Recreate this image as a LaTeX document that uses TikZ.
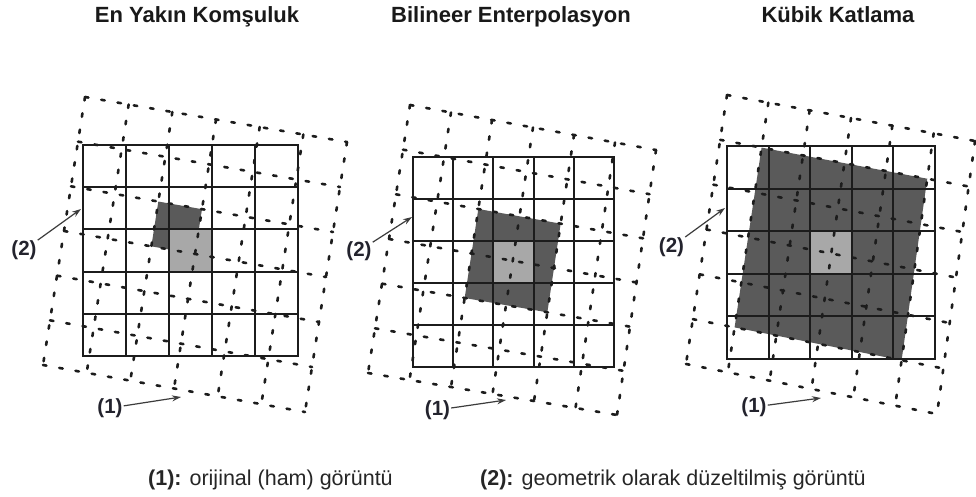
\documentclass[tikz,border=0pt]{standalone}
\usepackage{fontspec}
\setmainfont{Liberation Sans}
\usetikzlibrary{calc,arrows.meta}
\definecolor{lightcell}{RGB}{168,168,168}
\definecolor{darkcell}{RGB}{90,90,90}
\definecolor{gridline}{RGB}{28,28,28}
\definecolor{arrowcol}{RGB}{60,60,60}
\definecolor{labelcol}{RGB}{35,35,45}
\tikzset{
  solidgrid/.style={draw=gridline, line width=2pt, line cap=rect},
  dashgrid/.style={draw=gridline, line width=2.6pt, line cap=round, dash pattern=on 3.5pt off 13pt},
  titletext/.style={font=\fontsize{22}{26}\selectfont\bfseries, text=black!90, anchor=base, inner sep=0pt},
  numlabel/.style={font=\fontsize{20.5}{24}\selectfont\bfseries, text=labelcol, inner sep=1pt},
  pointer/.style={draw=arrowcol, line width=1.2pt, -{Stealth[length=9pt,width=6pt]}},
  legendtext/.style={font=\fontsize{21.5}{25}\selectfont, text=black!85, anchor=base west, inner sep=0pt},
}
\begin{document}
\begin{tikzpicture}[x=1pt,y=-1pt]
\useasboundingbox (0,0) rectangle (976,497);
\clip (0,0) rectangle (976,497);
\fill[white] (0,0) rectangle (976,497);

% raw (original) grids: corner points, interpolated 6x6 mesh
\foreach \p/\qa/\qb/\qc/\qd/\qe/\qf/\qg/\qh in {a/85/97/347/142/43/365/305/412,b/410/105/656/150/368/373/617/415,c/727/95/975/141/686/364/937/414}{
  \coordinate (\p tl) at (\qa,\qb);
  \coordinate (\p tr) at (\qc,\qd);
  \coordinate (\p bl) at (\qe,\qf);
  \coordinate (\p br) at (\qg,\qh);
  \foreach \i in {0,...,6}{
    \coordinate (\p t\i) at ($(\p tl)!\i/6!(\p tr)$);
    \coordinate (\p b\i) at ($(\p bl)!\i/6!(\p br)$);
    \foreach \j in {0,...,6}{
      \coordinate (\p-\i-\j) at ($(\p t\i)!\j/6!(\p b\i)$);
    }
  }
}

% shaded areas
\fill[darkcell] (a-2-2) -- (a-3-2) -- (a-3-3) -- (a-2-3) -- cycle;
\fill[lightcell] (169,229.4) rectangle (212,271.6);
\fill[darkcell] (b-2-2) -- (b-4-2) -- (b-4-4) -- (b-2-4) -- cycle;
\fill[lightcell] (493.4,241) rectangle (533.6,283);
\fill[darkcell] (c-1-1) -- (c-5-1) -- (c-5-5) -- (c-1-5) -- cycle;
\fill[lightcell] (810.2,231.2) rectangle (851.8,273.8);

% corrected (solid) grids
\foreach \xa/\xb/\ya/\yb in {83/298/145/356,413/614/157/367,727/935/146/359}{
  \foreach \k in {0,...,5}{
    \draw[solidgrid] ({\xa+\k*(\xb-\xa)/5},\ya) -- ({\xa+\k*(\xb-\xa)/5},\yb);
    \draw[solidgrid] (\xa,{\ya+\k*(\yb-\ya)/5}) -- (\xb,{\ya+\k*(\yb-\ya)/5});
  }
}

% raw (dashed) grids
\foreach \p in {a,b,c}{
  \foreach \k in {0,...,6}{
    \draw[dashgrid] (\p-\k-0) -- (\p-\k-6);
    \draw[dashgrid] (\p-0-\k) -- (\p-6-\k);
  }
}

% pointers
\node[numlabel] (twoA) at (24,250) {(2)};
\coordinate (twoAtip) at (81,209);
\draw[pointer] (twoA) -- (twoAtip);
\node[numlabel] (oneA) at (110,408) {(1)};
\coordinate (oneAtip) at (181,397);
\draw[pointer] (oneA) -- (oneAtip);

\node[numlabel] (twoB) at (359,251) {(2)};
\coordinate (twoBtip) at (412,217);
\draw[pointer] (twoB) -- (twoBtip);
\node[numlabel] (oneB) at (437.5,410) {(1)};
\coordinate (oneBtip) at (506,400);
\draw[pointer] (oneB) -- (oneBtip);

\node[numlabel] (twoC) at (671.5,247) {(2)};
\coordinate (twoCtip) at (725,208);
\draw[pointer] (twoC) -- (twoCtip);
\node[numlabel] (oneC) at (754,407) {(1)};
\coordinate (oneCtip) at (821,398);
\draw[pointer] (oneC) -- (oneCtip);

% titles
\node[titletext] (titleA) at (197,23) {En Yakın Komşuluk};
\node[titletext] (titleB) at (511,23) {Bilineer Enterpolasyon};
\node[titletext] (titleC) at (838,23) {Kübik Katlama};

% legend
\node[legendtext] (legA) at (148,485) {\textbf{(1):} orijinal (ham) görüntü};
\node[legendtext] (legB) at (480,485) {\textbf{(2):} geometrik olarak düzeltilmiş görüntü};
\end{tikzpicture}
\end{document}
